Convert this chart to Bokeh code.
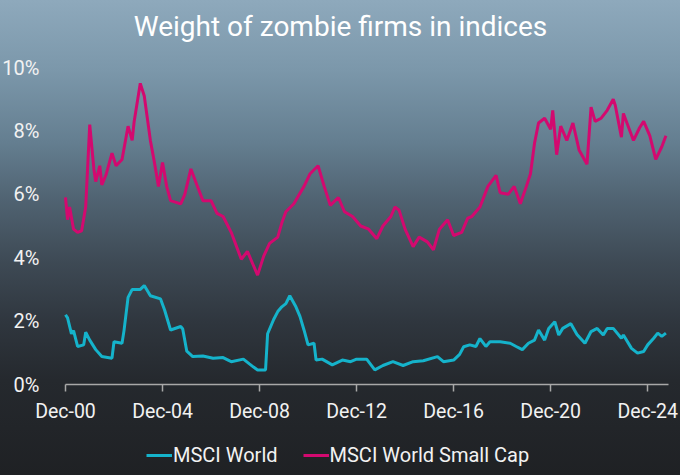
import pandas as pd
from bokeh.plotting import figure
from bokeh.models import (ColumnDataSource, FixedTicker, DatetimeTickFormatter,
                          PrintfTickFormatter, Legend, LegendItem, Range1d, Label)
from bokeh.embed import file_html
from bokeh.resources import INLINE

TITLE = "Weight of zombie firms in indices"
SERIES_NAMES = ["MSCI World", "MSCI World Small Cap"]
TICK_DATES = ["2000-12", "2004-12", "2008-12", "2012-12", "2016-12", "2020-12", "2024-12"]
Y_TICKS = [0, 2, 4, 6, 8, 10]

small_dates = ["2000-12", "2001-01", "2001-02", "2001-04", "2001-06", "2001-08", "2001-10", "2001-12",
               "2002-02", "2002-03", "2002-05", "2002-06", "2002-08", "2002-11", "2003-01", "2003-04",
               "2003-07", "2003-09", "2003-10", "2004-01", "2004-03", "2004-06", "2004-08", "2004-10",
               "2004-12", "2005-02", "2005-04", "2005-09", "2005-11", "2006-02", "2006-05", "2006-08",
               "2006-12", "2007-03", "2007-06", "2007-10", "2008-03", "2008-06", "2008-11", "2009-02",
               "2009-05", "2009-09", "2009-11", "2010-01", "2010-05", "2010-10", "2011-01", "2011-05",
               "2011-08", "2011-11", "2012-03", "2012-06", "2012-10", "2013-02", "2013-06", "2013-10",
               "2014-01", "2014-05", "2014-07", "2014-09", "2014-12", "2015-04", "2015-07", "2015-11",
               "2016-02", "2016-05", "2016-09", "2016-12", "2017-04", "2017-07", "2017-09", "2018-01",
               "2018-05", "2018-09", "2018-11", "2019-03", "2019-06", "2019-09", "2019-12", "2020-02",
               "2020-04", "2020-06", "2020-09", "2020-12", "2021-01", "2021-03", "2021-05", "2021-08",
               "2021-11", "2022-02", "2022-06", "2022-08", "2022-10", "2023-01", "2023-04", "2023-07",
               "2023-08", "2023-11", "2023-12", "2024-05", "2024-08", "2024-10", "2025-01", "2025-04",
               "2025-07", "2025-09"]
small_vals = [5.9, 5.2, 5.6, 4.9, 4.8, 4.85, 5.6, 8.2,
              6.8, 6.4, 6.9, 6.3, 6.6, 7.3, 6.9, 7.1,
              8.15, 7.7, 8.3, 9.5, 9.1, 7.7, 7.0, 6.25,
              7.0, 6.25, 5.8, 5.7, 6.0, 6.8, 6.3, 5.8,
              5.8, 5.4, 5.3, 4.8, 3.95, 4.2, 3.45, 4.05,
              4.45, 4.65, 5.1, 5.45, 5.7, 6.25, 6.65, 6.9,
              6.25, 5.65, 5.9, 5.45, 5.3, 5.0, 4.9, 4.6,
              5.0, 5.3, 5.6, 5.5, 4.9, 4.35, 4.65, 4.5,
              4.25, 4.9, 5.2, 4.7, 4.8, 5.25, 5.3, 5.6,
              6.25, 6.6, 6.05, 6.0, 6.25, 5.7, 6.25, 6.65,
              7.6, 8.25, 8.4, 8.05, 8.65, 7.25, 8.15, 7.7,
              8.25, 7.4, 6.95, 8.75, 8.3, 8.4, 8.65, 9.0,
              8.8, 7.8, 8.55, 7.7, 8.1, 8.3, 7.85, 7.1,
              7.5, 7.85]

world_dates = ["2000-12", "2001-01", "2001-03", "2001-04", "2001-06", "2001-09", "2001-10", "2001-12",
               "2002-03", "2002-06", "2002-11", "2002-12", "2003-04", "2003-05", "2003-07", "2003-09",
               "2004-01", "2004-03", "2004-06", "2004-11", "2005-01", "2005-04", "2005-09", "2005-10",
               "2005-12", "2006-03", "2006-08", "2007-01", "2007-06", "2007-10", "2008-04", "2008-07",
               "2008-09", "2008-11", "2009-03", "2009-04", "2009-07", "2009-09", "2009-11", "2010-01",
               "2010-03", "2010-06", "2010-08", "2010-10", "2010-12", "2011-03", "2011-04", "2011-07",
               "2011-12", "2012-05", "2012-09", "2012-12", "2013-05", "2013-09", "2014-01", "2014-06",
               "2014-11", "2015-04", "2015-09", "2016-04", "2016-07", "2016-12", "2017-03", "2017-05",
               "2017-08", "2017-11", "2018-01", "2018-04", "2018-06", "2018-11", "2019-04", "2019-07",
               "2019-10", "2020-01", "2020-04", "2020-06", "2020-09", "2020-11", "2021-02", "2021-04",
               "2021-06", "2021-10", "2022-01", "2022-05", "2022-08", "2022-11", "2023-02", "2023-04",
               "2023-07", "2023-11", "2023-12", "2024-04", "2024-07", "2024-10", "2024-12", "2025-03",
               "2025-05", "2025-07", "2025-09"]
world_vals = [2.2, 2.1, 1.6, 1.7, 1.2, 1.25, 1.65, 1.4,
              1.1, 0.88, 0.83, 1.35, 1.3, 1.7, 2.75, 3.0,
              3.0, 3.12, 2.8, 2.7, 2.35, 1.72, 1.83, 1.75,
              1.05, 0.88, 0.9, 0.83, 0.85, 0.72, 0.8, 0.65,
              0.55, 0.46, 0.46, 1.6, 2.05, 2.3, 2.45, 2.55,
              2.8, 2.45, 2.15, 1.72, 1.25, 1.3, 0.77, 0.8,
              0.62, 0.77, 0.72, 0.8, 0.8, 0.46, 0.6, 0.72,
              0.6, 0.72, 0.75, 0.88, 0.72, 0.77, 0.95, 1.19,
              1.25, 1.2, 1.45, 1.2, 1.35, 1.35, 1.3, 1.2,
              1.1, 1.3, 1.4, 1.72, 1.4, 1.77, 1.98, 1.56,
              1.77, 1.92, 1.58, 1.3, 1.67, 1.77, 1.56, 1.77,
              1.77, 1.46, 1.56, 1.14, 0.99, 1.04, 1.25, 1.46,
              1.62, 1.52, 1.62]

CYAN = "#15b3cb"
PINK = "#d3096f"
TEXT = "#f2f2f2"
FONT = "Roboto"
W, H = 680, 475

src_world = ColumnDataSource(dict(d=pd.to_datetime(world_dates), v=world_vals))
src_small = ColumnDataSource(dict(d=pd.to_datetime(small_dates), v=small_vals))

# axis extent (data) and the pixel layout of the plotting area
x0 = pd.Timestamp("2000-12-01")
x1 = pd.Timestamp("2025-10-10")
px_left, px_right = 65, 668          # where x0 / x1 sit on the canvas
px_top, px_zero = 67, 384            # where 10% / 0% sit on the canvas
per_px = (x1 - x0) / (px_right - px_left)
xr = Range1d(x0 - per_px * px_left, x1 + per_px * (W - px_right))
u = (px_zero - px_top) / 10.0
yr = Range1d(-(H - px_zero) / u, 10 + px_top / u)

p = figure(width=W, height=H, x_axis_type="datetime", output_backend="svg",
           toolbar_location=None, x_range=xr, y_range=yr,
           min_border_left=0, min_border_right=0, min_border_top=0, min_border_bottom=0)

p.styles = {
    "background": "linear-gradient(to bottom, #8ea9bc 0%, #7b97aa 15%, #647e90 30%, #506372 42%, "
                  "#3e4a55 55%, #2f363e 68%, #25292e 80%, #1f2124 100%)",
}
p.background_fill_alpha = 0
p.border_fill_alpha = 0
p.outline_line_color = None
p.grid.visible = False
p.title.visible = False

r_world = p.line("d", "v", source=src_world, line_color=CYAN, line_width=3)
r_small = p.line("d", "v", source=src_small, line_color=PINK, line_width=3)

x0_ms = x0.value // 10**6
x1_ms = x1.value // 10**6

# y axis (drawn at the first date)
p.yaxis.fixed_location = x0_ms
p.yaxis.ticker = FixedTicker(ticks=Y_TICKS)
p.yaxis.formatter = PrintfTickFormatter(format="%d%%")
p.yaxis.axis_line_color = None
p.yaxis.major_tick_line_color = None
p.yaxis.minor_tick_line_color = None
p.yaxis.major_label_standoff = 20
p.yaxis.major_label_text_color = TEXT
p.yaxis.major_label_text_font = FONT
p.yaxis.major_label_text_font_size = "20px"

# x axis (drawn at y = 0)
tick_ms = [pd.Timestamp(t).value // 10**6 for t in TICK_DATES]
p.xaxis.fixed_location = 0
p.xaxis.bounds = (x0_ms, x1_ms)
p.xaxis.ticker = FixedTicker(ticks=tick_ms)
p.xaxis.formatter = DatetimeTickFormatter(years="%b-%y", months="%b-%y", days="%b-%y")
p.xaxis.axis_line_color = "#a8a8a8"
p.xaxis.axis_line_width = 1.5
p.xaxis.major_tick_line_color = "#a8a8a8"
p.xaxis.major_tick_line_width = 1.5
p.xaxis.major_tick_in = 0
p.xaxis.major_tick_out = 7
p.xaxis.minor_tick_line_color = None
p.xaxis.major_label_standoff = 8
p.xaxis.major_label_text_color = TEXT
p.xaxis.major_label_text_font = FONT
p.xaxis.major_label_text_font_size = "19.5px"

title = Label(x=W / 2, y=H - 26, x_units="screen", y_units="screen", text=TITLE,
              text_align="center", text_baseline="middle", text_color="#ffffff",
              text_font=FONT, text_font_size="28px")
p.add_layout(title)

legend = Legend(items=[LegendItem(label=SERIES_NAMES[0], renderers=[r_world]),
                       LegendItem(label=SERIES_NAMES[1], renderers=[r_small])],
                orientation="horizontal", location=(146, 8))
legend.background_fill_alpha = 0
legend.border_line_color = None
legend.label_text_color = TEXT
legend.label_text_font = FONT
legend.label_text_font_size = "20px"
legend.glyph_width = 26
legend.label_standoff = 1
legend.spacing = 25
legend.margin = 0
legend.padding = 4
p.add_layout(legend, "center")

open("out.html", "w").write(file_html(p, INLINE))
